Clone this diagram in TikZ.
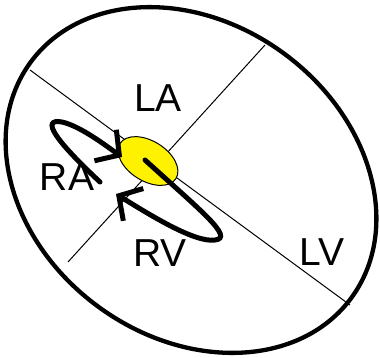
\documentclass[tikz,border=0pt]{standalone}
\usepackage{fontspec}
\setmainfont{Liberation Sans}
\usetikzlibrary{arrows.meta}
\begin{document}
\begin{tikzpicture}[x=1pt,y=-1pt,
  thinline/.style={line width=1pt},
  loopline/.style={line width=5pt, line cap=round, -{Straight Barb[length=17pt,width=38pt,line width=5pt]}},
  lbl/.style={font=\fontsize{39}{39}\selectfont, inner sep=0pt}]
\useasboundingbox (0,0) rectangle (380,357);
\coordinate (a1) at (30,70);
\coordinate (a2) at (350,305);
\coordinate (b1) at (265,45);
\coordinate (b2) at (68,262);
\draw[thinline] (a1) -- (a2);
\draw[thinline] (b1) -- (b2);
\draw[line width=4.3pt, shift={(191,180)}, rotate=-36.3] (0,0) ellipse [x radius=199, y radius=157];
\draw[line width=1pt, fill=yellow, shift={(148,161)}, rotate=-32] (0,0) ellipse [x radius=33, y radius=20];
\coordinate (s1) at (100,182);
\coordinate (t1) at (122,157);
\coordinate (s2) at (145,160);
\coordinate (t2) at (116,194);
\draw[loopline] (s1) .. controls (55,140) and (40,118) .. (62,122) .. controls (80,126) and (105,145) .. (t1);
\draw[loopline] (s2) .. controls (200,210) and (235,238) .. (215,240) .. controls (195,243) and (150,215) .. (t2);
\node[lbl] (LA) at (158,98) {LA};
\node[lbl] (RA) at (67,177) {RA};
\node[lbl] (RV) at (160,253) {RV};
\node[lbl] (LV) at (322,252) {LV};
\end{tikzpicture}
\end{document}
